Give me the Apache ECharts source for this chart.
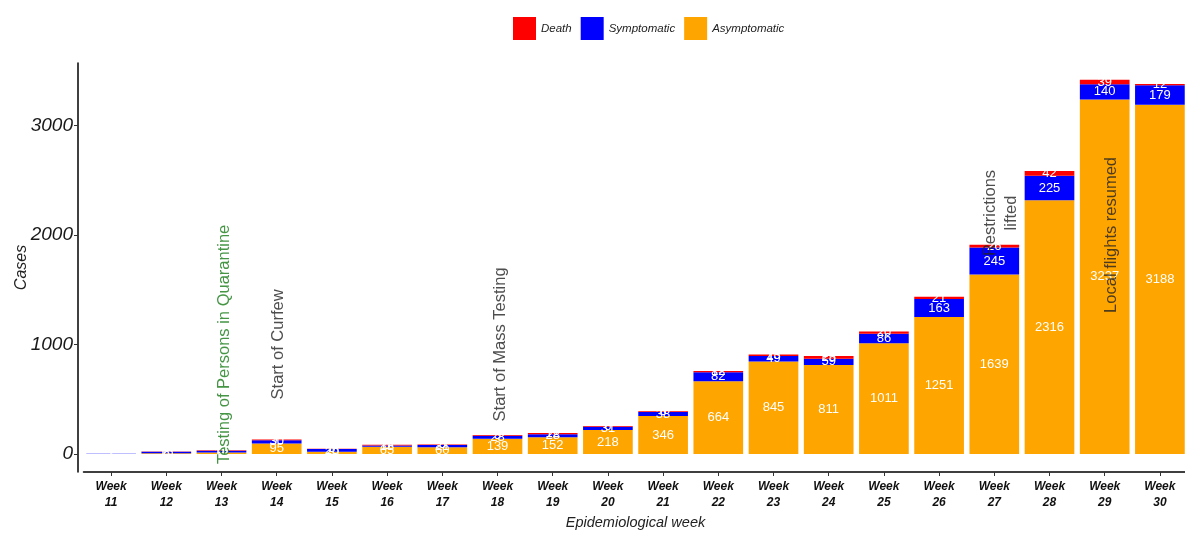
<!DOCTYPE html>
<html>
<head>
<meta charset="utf-8">
<script src="https://cdn.jsdelivr.net/npm/echarts@6/dist/echarts.min.js"></script>
<style>
  html, body { margin: 0; padding: 0; background: #fff; }
  #chart { width: 1185px; height: 533px; }
</style>
</head>
<body>
<div id="chart"></div>
<script>
const weeks = ['Week\n11', 'Week\n12', 'Week\n13', 'Week\n14', 'Week\n15', 'Week\n16', 'Week\n17', 'Week\n18', 'Week\n19', 'Week\n20',
  'Week\n21', 'Week\n22', 'Week\n23', 'Week\n24', 'Week\n25', 'Week\n26', 'Week\n27', 'Week\n28', 'Week\n29', 'Week\n30'];
const asymptomatic = [0, 6, 12, 95, 20, 65, 60, 139, 152, 218, 346, 664, 845, 811, 1011, 1251, 1639, 2316, 3237, 3188];
const symptomatic = [2, 15, 18, 30, 25, 13, 21, 28, 28, 31, 38, 82, 49, 59, 86, 163, 245, 225, 140, 179];
const deaths = [0, 2, 3, 7, 3, 5, 5, 5, 12, 6, 6, 12, 13, 25, 20, 21, 26, 42, 39, 12];
const yTicks = [0, 1000, 2000, 3000];

// event annotations (week number, y value, text)
const annoWeek = [13.05, 14.03, 18.06, 27.12, 29.13];
const annoY = [1000, 1000, 1000, 2200, 2000];
const annoText = ['Testing of Persons in Quarantine', 'Start of Curfew', 'Start of Mass Testing', 'Restrictions\nlifted', 'Local flights resumed'];
const annoColor = ['#177a17', '#222', '#222', '#222', '#222'];

const sans = "'Liberation Sans', Arial, sans-serif";

const chart = echarts.init(document.getElementById('chart'));

const barSeries = (name, vals, color) => ({
  name, type: 'bar', stack: 'cases', barCategoryGap: '10%',
  data: vals,
  itemStyle: { color },
  label: {
    show: true, position: 'inside', color: '#fff', fontSize: 13, fontFamily: sans,
    formatter: p => p.value > 0 ? p.value : ''
  },
  labelLayout: { hideOverlap: false }
});

chart.setOption({
  animation: false,
  backgroundColor: '#fff',
  legend: {
    data: ['Death', 'Symptomatic', 'Asymptomatic'],
    top: 12, left: 508, icon: 'rect', itemWidth: 23, itemHeight: 23, itemGap: 9,
    textStyle: { fontStyle: 'italic', fontSize: 11.5, fontFamily: sans, color: '#222' }
  },
  grid: { left: 83.5, right: -2.5, top: 63, bottom: 61, outerBoundsMode: 'none', containLabel: false },
  xAxis: [{
    type: 'category', data: weeks,
    name: 'Epidemiological week', nameLocation: 'middle', nameGap: 43, nameMoveOverlap: false,
    nameTextStyle: { fontStyle: 'italic', fontSize: 14.5, fontFamily: sans, color: '#222' },
    axisLine: { show: true, onZero: false, lineStyle: { color: '#000', width: 1.5 } },
    axisTick: { show: true, length: 4, alignWithLabel: true, lineStyle: { color: '#333' } },
    axisLabel: {
      interval: 0, margin: 7,
      fontStyle: 'italic', fontWeight: 'bold', fontSize: 12, lineHeight: 16, fontFamily: sans, color: '#111'
    },
    splitLine: { show: false }
  }, {
    type: 'value', min: 10.5, max: 30.5, show: false
  }],
  yAxis: {
    type: 'value', min: -165, max: 3570, offset: 5.5,
    name: 'Cases', nameLocation: 'middle', nameGap: 48, nameRotate: 90, nameMoveOverlap: false,
    nameTextStyle: { fontStyle: 'italic', fontSize: 16, fontFamily: sans, color: '#222' },
    axisLine: { show: true, lineStyle: { color: '#000', width: 1.5 } },
    axisTick: { show: true, length: 4, customValues: yTicks, lineStyle: { color: '#333' } },
    axisLabel: {
      customValues: yTicks, margin: 5, formatter: v => String(v),
      fontStyle: 'italic', fontSize: 19, fontFamily: sans, color: '#1a1a1a'
    },
    splitLine: { show: false }
  },
  series: [
    barSeries('Asymptomatic', asymptomatic, '#FFA500'),
    barSeries('Symptomatic', symptomatic, '#0000FF'),
    barSeries('Death', deaths, '#FF0000'),
    {
      name: 'events', type: 'scatter', xAxisIndex: 1, z: 10, symbolSize: 1,
      itemStyle: { color: 'rgba(0,0,0,0)' },
      data: annoWeek.map((w, i) => ({
        value: [w, annoY[i]], name: annoText[i],
        label: { color: annoColor[i] }
      })),
      label: {
        show: true, position: 'inside', rotate: 90, align: 'center', verticalAlign: 'middle',
        formatter: p => p.name, fontSize: 16.5, lineHeight: 21, fontFamily: sans
      },
      labelLayout: { hideOverlap: false }
    }
  ]
});
window.addEventListener('resize', () => chart.resize());
</script>
</body>
</html>
